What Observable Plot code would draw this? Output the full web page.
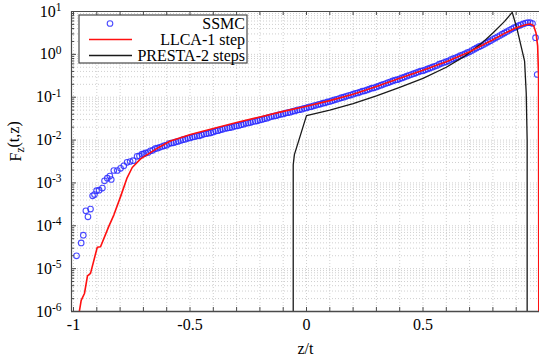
<!DOCTYPE html>
<html><head><meta charset="utf-8">
<script src="https://cdn.jsdelivr.net/npm/d3@7"></script>
<script src="https://cdn.jsdelivr.net/npm/@observablehq/plot@0.6"></script>
<style>
html,body{margin:0;padding:0;background:#fff;}
svg text{font-family:'Liberation Serif','Times New Roman',Times,serif !important;}
</style>
</head><body><div id="chart"></div>
<script>
// ---- axes / ticks ----
const xDomain = [-1.0086, 1.0];
const yDomain = [1e-6, 10];
const xTickLabels = [-1, -0.5, 0, 0.5];
const xMinorTicks = [-1, -0.9, -0.8, -0.7, -0.6, -0.5, -0.4, -0.3, -0.2, -0.1, 0, 0.1, 0.2, 0.3, 0.4, 0.5, 0.6, 0.7, 0.8, 0.9];
const yDecades = [-6, -5, -4, -3, -2, -1, 0, 1];
const yMantissas = [2, 3, 4, 5, 6, 7, 8, 9];

// ---- series: SSMC (points), z/t and log10 F ----
const ssmcZ = [
-0.987,-0.967,-0.958,-0.947,-0.938,-0.927,-0.918,-0.910,-0.901,-0.890,-0.876,-0.867,-0.855,-0.844,-0.838,-0.827,-0.812,-0.798,-0.784,-0.770,-0.757,-0.744,-0.727,-0.717,-0.706,-0.698,
-0.69,-0.68,-0.67,-0.66,-0.65,-0.64,-0.63,-0.62,-0.61,-0.60,
-0.59,-0.58,-0.57,-0.56,-0.55,-0.54,-0.53,-0.52,-0.51,-0.50,
-0.49,-0.48,-0.47,-0.46,-0.45,-0.44,-0.43,-0.42,-0.41,-0.40,
-0.39,-0.38,-0.37,-0.36,-0.35,-0.34,-0.33,-0.32,-0.31,-0.30,
-0.29,-0.28,-0.27,-0.26,-0.25,-0.24,-0.23,-0.22,-0.21,-0.20,
-0.19,-0.18,-0.17,-0.16,-0.15,-0.14,-0.13,-0.12,-0.11,-0.10,
-0.09,-0.08,-0.07,-0.06,-0.05,-0.04,-0.03,-0.02,-0.01,0.00,
0.01,0.02,0.03,0.04,0.05,0.06,0.07,0.08,0.09,0.10,
0.11,0.12,0.13,0.14,0.15,0.16,0.17,0.18,0.19,0.20,
0.21,0.22,0.23,0.24,0.25,0.26,0.27,0.28,0.29,0.30,
0.31,0.32,0.33,0.34,0.35,0.36,0.37,0.38,0.39,0.40,
0.41,0.42,0.43,0.44,0.45,0.46,0.47,0.48,0.49,0.50,
0.51,0.52,0.53,0.54,0.55,0.56,0.57,0.58,0.59,0.60,
0.61,0.62,0.63,0.64,0.65,0.66,0.67,0.68,0.69,0.70,
0.71,0.72,0.73,0.74,0.75,0.76,0.77,0.78,0.79,0.80,
0.81,0.82,0.83,0.84,0.85,0.86,0.87,0.88,0.89,0.90,
0.91,0.92,0.93,0.94,0.95,0.96,0.97,0.983,0.990];
const ssmcLog10 = [
-4.70,-4.40,-4.22,-3.65,-3.79,-3.61,-3.30,-3.27,-3.18,-3.17,-3.12,-2.95,-2.89,-2.84,-2.92,-2.71,-2.71,-2.66,-2.60,-2.52,-2.50,-2.48,-2.38,-2.37,-2.33,-2.32,
-2.30,-2.29,-2.25,-2.24,-2.20,-2.19,-2.17,-2.15,-2.13,-2.12,
-2.08,-2.07,-2.06,-2.04,-2.03,-2.01,-1.99,-1.98,-1.96,-1.95,
-1.93,-1.92,-1.90,-1.90,-1.88,-1.86,-1.85,-1.84,-1.83,-1.81,
-1.79,-1.78,-1.76,-1.75,-1.73,-1.72,-1.71,-1.70,-1.68,-1.67,
-1.66,-1.64,-1.63,-1.61,-1.60,-1.59,-1.57,-1.56,-1.55,-1.53,
-1.52,-1.50,-1.49,-1.47,-1.45,-1.44,-1.43,-1.41,-1.40,-1.39,
-1.37,-1.36,-1.35,-1.33,-1.32,-1.30,-1.29,-1.28,-1.26,-1.25,
-1.23,-1.22,-1.20,-1.19,-1.17,-1.16,-1.14,-1.13,-1.11,-1.10,
-1.08,-1.06,-1.05,-1.03,-1.01,-1.00,-0.98,-0.96,-0.95,-0.93,
-0.91,-0.90,-0.88,-0.86,-0.85,-0.83,-0.81,-0.79,-0.78,-0.76,
-0.74,-0.72,-0.70,-0.68,-0.66,-0.64,-0.62,-0.60,-0.59,-0.57,
-0.55,-0.53,-0.51,-0.49,-0.47,-0.45,-0.43,-0.41,-0.39,-0.38,
-0.36,-0.34,-0.32,-0.30,-0.28,-0.26,-0.23,-0.21,-0.19,-0.17,
-0.15,-0.12,-0.10,-0.08,-0.06,-0.03,-0.01,0.01,0.04,0.06,
0.09,0.12,0.15,0.18,0.20,0.23,0.26,0.29,0.32,0.35,
0.38,0.41,0.44,0.47,0.50,0.53,0.56,0.59,0.62,0.64,
0.67,0.69,0.71,0.73,0.74,0.74,0.72,0.39,-0.47];

// ---- series: LLCA-1 step (red line) ----
const llcaZ = [-0.975,-0.967,-0.953,-0.940,-0.927,-0.898,-0.884,-0.849,-0.827,-0.798,-0.770,-0.748,-0.712,-0.655,-0.627,-0.584,-0.498,-0.40,-0.30,-0.20,-0.10,0.00,0.10,0.20,0.30,0.40,0.50,0.60,0.70,0.80,0.85,0.90,0.94,0.96,0.975,0.985,0.992,0.996,0.997];
const llcaLog10 = [-6.00,-5.74,-5.58,-5.17,-5.11,-4.50,-4.49,-4.02,-3.75,-3.32,-2.88,-2.64,-2.44,-2.24,-2.15,-2.02,-1.87,-1.73,-1.59,-1.46,-1.33,-1.21,-1.08,-0.93,-0.75,-0.56,-0.37,-0.17,0.06,0.34,0.49,0.62,0.69,0.71,0.67,0.50,0.20,-0.50,-6.00];

// ---- series: PRESTA-2 steps (black line) ----
const prestaZ = [-0.057,-0.057,-0.052,0.000,0.10,0.20,0.30,0.40,0.50,0.60,0.674,0.75,0.80,0.85,0.883,0.904,0.936,0.943,0.947,0.947];
const prestaLog10 = [-6.00,-2.58,-2.34,-1.43,-1.30,-1.15,-0.97,-0.77,-0.56,-0.30,-0.06,0.25,0.50,0.77,0.98,0.585,-0.16,-0.90,-2.00,-6.00];

const seriesNames = ["SSMC", "LLCA-1 step", "PRESTA-2 steps"];
const seriesColors = ["#2a2aff", "#ff1010", "#1a1a1a"];

// tables
const ssmc = ssmcZ.map((z, i) => ({z, F: Math.pow(10, ssmcLog10[i])}));
const llca = llcaZ.map((z, i) => ({z, F: Math.pow(10, llcaLog10[i])}));
const presta = prestaZ.map((z, i) => ({z, F: Math.pow(10, prestaLog10[i])}));
const yMajor = yDecades.map(e => Math.pow(10, e));
const yMinor = yDecades.slice(0, -1).flatMap(e => yMantissas.map(m => m * Math.pow(10, e)));

const fontFamily = "'Liberation Serif', 'Times New Roman', Times, serif";
const frameColor = "#4a4a4a";
const gridStyle = {stroke: "#cfcfcf", strokeOpacity: 1, strokeDasharray: "1,2", strokeWidth: 1};

const chart = Plot.plot({
  width: 539, height: 361,
  marginLeft: 71, marginRight: 0, marginTop: 11, marginBottom: 50,
  style: {fontFamily, fontSize: "16px", color: "#000", background: "#fff", overflow: "visible"},
  x: {domain: xDomain, axis: null},
  y: {type: "log", domain: yDomain, axis: null},
  marks: [
    Plot.gridX({ticks: xMinorTicks, ...gridStyle}),
    Plot.gridY({ticks: yMinor.concat(yMajor), ...gridStyle}),
    Plot.dot(ssmc, {x: "z", y: "F", r: 2.8, stroke: seriesColors[0], strokeOpacity: 0.85, strokeWidth: 1.1, clip: true}),
    Plot.line(presta, {x: "z", y: "F", stroke: seriesColors[2], strokeWidth: 1.3, clip: true}),
    Plot.line(llca, {x: "z", y: "F", stroke: seriesColors[1], strokeWidth: 1.6, clip: true}),
    // frame (left, top, bottom)
    Plot.ruleY([yDomain[0]], {stroke: frameColor, strokeWidth: 1.3}),
    Plot.ruleY([yDomain[1]], {stroke: frameColor, strokeWidth: 1.2}),
    Plot.ruleX([xDomain[0]], {stroke: frameColor, strokeWidth: 1.2}),
    // inward ticks
    Plot.ruleX(xMinorTicks, {insetTop: 296, stroke: frameColor}),
    Plot.ruleX(xMinorTicks, {insetBottom: 296, stroke: frameColor}),
    Plot.ruleY(yMajor, {insetRight: 463, stroke: frameColor}),
    Plot.ruleY(yMinor, {insetRight: 465, stroke: frameColor}),
    Plot.axisX({ticks: xTickLabels, tickSize: 0, tickPadding: 7, tickFormat: d => String(d), label: null, fontSize: 16, fontFamily}),
    Plot.axisY({ticks: yMajor, tickSize: 0, tickPadding: 10, tickFormat: d => "10^" + Math.round(Math.log10(d)), label: null, fontSize: 16, fontFamily}),
    Plot.text(["z/t"], {frameAnchor: "bottom", dy: 42, fontSize: 16, fontFamily}),
    Plot.text(["F_z(t,z)"], {frameAnchor: "left", dx: -56, rotate: -90, fontSize: 16, fontFamily})
  ]
});
document.getElementById("chart").appendChild(chart);

const svg = d3.select(chart);
// superscripts on y tick labels
svg.selectAll('[aria-label="y-axis tick label"] text').each(function () {
  const t = d3.select(this);
  const s = t.text();
  if (!s.includes("^")) return;
  const [base, exp] = s.split("^");
  t.text(null);
  t.append("tspan").text(base);
  t.append("tspan").attr("dy", "-0.5em").attr("font-size", "11.5px").text(exp);
});
// subscript on y label
svg.selectAll("text").each(function () {
  const t = d3.select(this);
  if (t.text() !== "F_z(t,z)") return;
  t.text(null);
  t.append("tspan").text("F");
  t.append("tspan").attr("dy", "0.3em").attr("font-size", "11.5px").text("z");
  t.append("tspan").attr("dy", "-0.3em").text("(t,z)");
});

// legend inside plot (top-left)
const lg = svg.append("g").attr("font-family", fontFamily).attr("font-size", 16);
lg.append("rect").attr("x", 79).attr("y", 15).attr("width", 168).attr("height", 48)
  .attr("fill", "#fff").attr("stroke", frameColor).attr("stroke-width", 1.2);
const rows = [23.5, 39.5, 55.5];
lg.append("circle").attr("cx", 110).attr("cy", rows[0]).attr("r", 2.8)
  .attr("fill", "none").attr("stroke", seriesColors[0]).attr("stroke-opacity", 0.85).attr("stroke-width", 1.1);
lg.append("line").attr("x1", 89).attr("x2", 132).attr("y1", rows[1]).attr("y2", rows[1])
  .attr("stroke", seriesColors[1]).attr("stroke-width", 1.6);
lg.append("line").attr("x1", 89).attr("x2", 132).attr("y1", rows[2]).attr("y2", rows[2])
  .attr("stroke", seriesColors[2]).attr("stroke-width", 1.3);
seriesNames.forEach((name, i) => {
  lg.append("text").attr("x", 245).attr("y", rows[i]).attr("dy", "0.35em")
    .attr("text-anchor", "end").attr("fill", "#000").text(name);
});
svg.selectAll("text").attr("font-family", fontFamily);
</script>
</body></html>
